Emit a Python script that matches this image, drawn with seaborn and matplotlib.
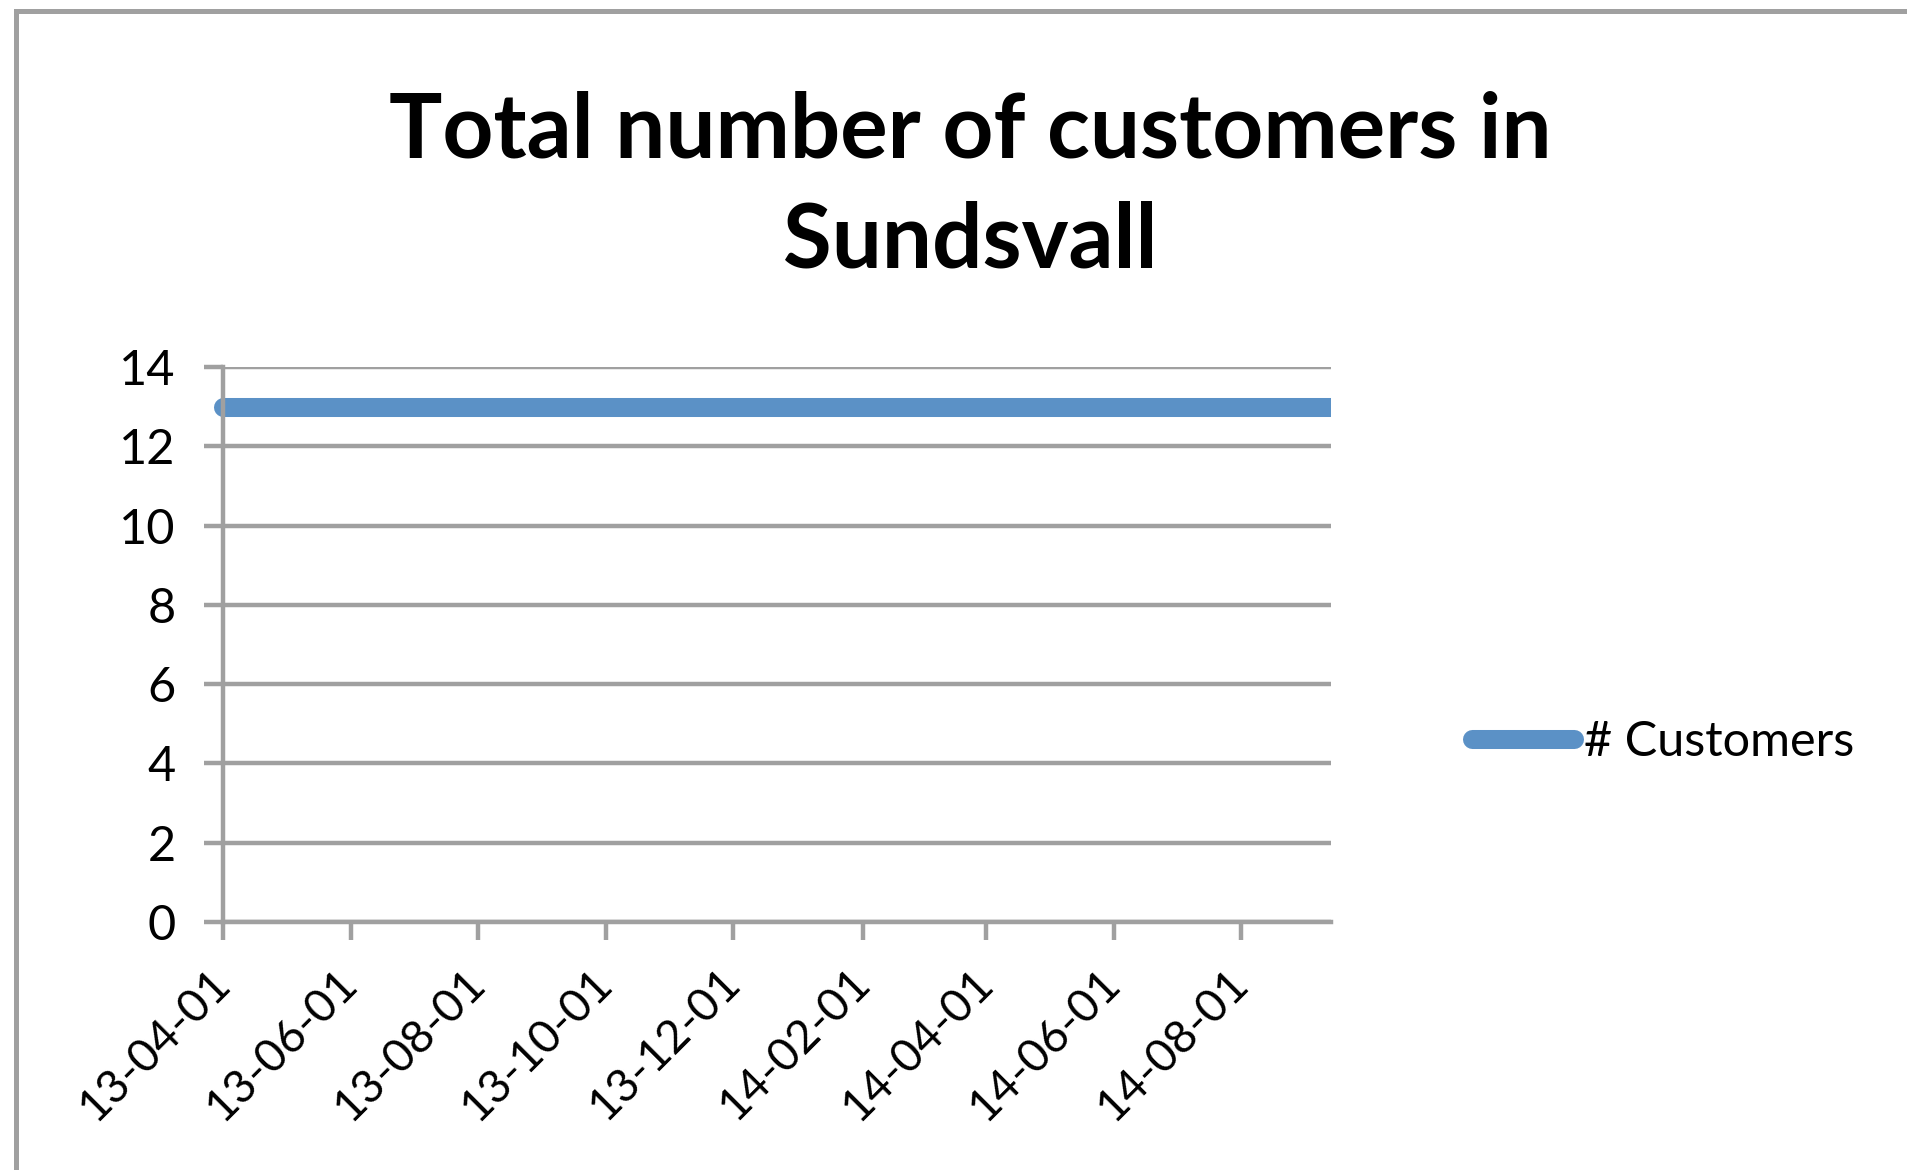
import numpy as np
import pandas as pd
import matplotlib.pyplot as plt
import matplotlib.dates as mdates
from matplotlib.patches import Rectangle
from matplotlib.transforms import Bbox, TransformedBbox
import seaborn as sns

# chart data
dates = ["2013-04-01", "2013-10-01", "2014-04-01", "2014-09-13"]
customers = [13, 13, 13, 13]
tick_dates = ["2013-04-01", "2013-06-01", "2013-08-01", "2013-10-01", "2013-12-01",
              "2014-02-01", "2014-04-01", "2014-06-01", "2014-08-01"]
y_ticks = [0, 2, 4, 6, 8, 10, 12, 14]
series_name = "# Customers"
title = "Total number of customers in\nSundsvall"

df = pd.DataFrame({"date": pd.to_datetime(dates), series_name: customers})

sns.set_theme(style="white")
plt.rcParams["font.family"] = ["Lato", "DejaVu Sans"]
plt.rcParams["text.color"] = "black"
plt.rcParams["xtick.labelcolor"] = "black"
plt.rcParams["ytick.labelcolor"] = "black"

grey = "#A0A0A0"
blue = "#5B91C6"

fig = plt.figure(figsize=(19.07, 11.70), dpi=100)
ax = fig.add_axes([223 / 1907, 1 - 922 / 1170, (1331 - 223) / 1907, (922 - 367) / 1170])

sns.lineplot(data=df, x="date", y=series_name, ax=ax, color=blue, linewidth=13.7,
             label=series_name, legend=False)
line = ax.lines[0]
line.set_solid_capstyle("round")
# let the round start cap poke past the y axis, keep the right end cut flat
line.set_clip_box(TransformedBbox(Bbox([[-0.02, 0], [1, 1]]), ax.transAxes))

# axes limits and ticks
ax.set_xlim(df["date"].min(), df["date"].max())
ax.set_ylim(0, 14)
ax.set_yticks(y_ticks)
ax.set_xticks(pd.to_datetime(tick_dates))
ax.xaxis.set_major_formatter(mdates.DateFormatter("%y-%m-%d"))
ax.set_xlabel("")
ax.set_ylabel("")

ax.grid(axis="y", color=grey, linewidth=3.2)
ax.grid(axis="x", visible=False)
ax.set_axisbelow(True)
for s in ["top", "right"]:
    ax.spines[s].set_visible(False)
for s in ["left", "bottom"]:
    ax.spines[s].set_color(grey)
    ax.spines[s].set_linewidth(3.2)

ax.tick_params(axis="y", direction="out", length=14, width=3.2, color=grey,
               labelsize=35, pad=20, left=True)
ax.tick_params(axis="x", direction="out", length=13, width=3.2, color=grey,
               labelsize=33, pad=26, bottom=True)
for lab in ax.get_xticklabels():
    lab.set_rotation(45)
    lab.set_ha("right")
    lab.set_va("center")
    lab.set_rotation_mode("anchor")

# title
fig.text(970 / 1907, 1 - 90 / 1170, title, ha="center", va="top", fontsize=64,
         fontweight="bold", linespacing=1.42)

# legend
fig.legend(handles=[line], labels=[series_name], loc="center left",
           bbox_to_anchor=(1472 / 1907, 1 - 742 / 1170), frameon=False,
           fontsize=35, handlelength=2.1, handletextpad=0.2, borderpad=0,
           borderaxespad=0)

# outer frame of the chart
fig.patches.append(Rectangle((16 / 1907, -0.1), 2, 1.1 - 11 / 1170,
                             transform=fig.transFigure, fill=False,
                             edgecolor=grey, linewidth=3.6))

fig.savefig("out.png", dpi=100)
